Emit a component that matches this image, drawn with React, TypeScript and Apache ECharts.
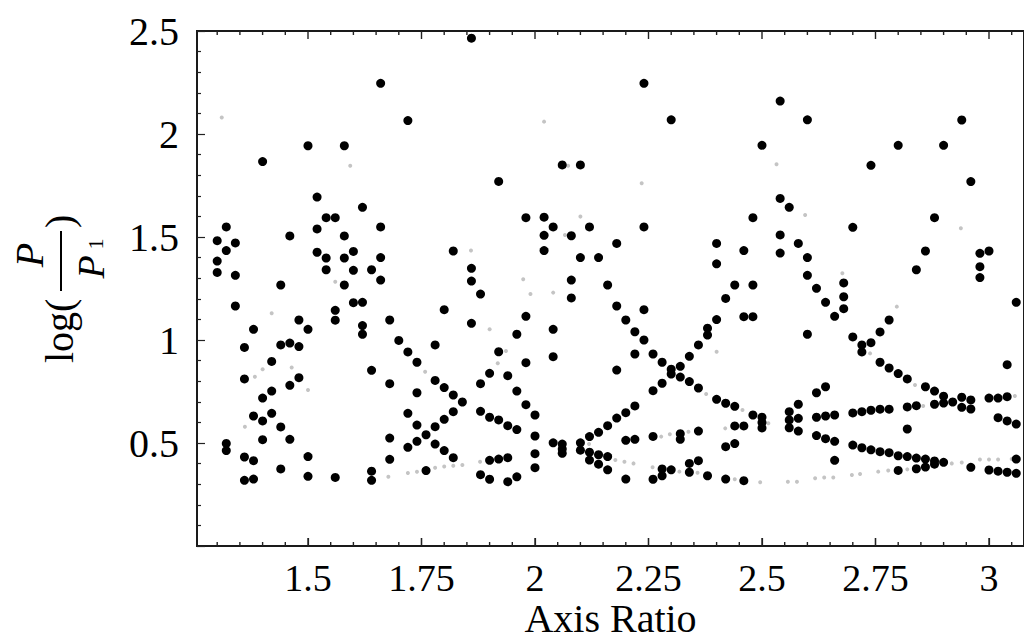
import React, { useEffect, useRef } from "react";
import * as echarts from "echarts";

// ---- data ----
const axisRatios = [
  1.30, 1.32, 1.34, 1.36, 1.38, 1.40, 1.42, 1.44, 1.46, 1.48,
  1.50, 1.52, 1.54, 1.56, 1.58, 1.60, 1.62, 1.64, 1.66, 1.68,
  1.70, 1.72, 1.74, 1.76, 1.78, 1.80, 1.82, 1.84, 1.86, 1.88,
  1.90, 1.92, 1.94, 1.96, 1.98, 2.00, 2.02, 2.04, 2.06, 2.08,
  2.10, 2.12, 2.14, 2.16, 2.18, 2.20, 2.22, 2.24, 2.26, 2.28,
  2.30, 2.32, 2.34, 2.36, 2.38, 2.40, 2.42, 2.44, 2.46, 2.48,
  2.50, 2.54, 2.56, 2.58, 2.60, 2.62, 2.64, 2.66, 2.68, 2.70,
  2.72, 2.74, 2.76, 2.78, 2.80, 2.82, 2.84, 2.86, 2.88, 2.90,
  2.92, 2.94, 2.96, 2.98, 3.00, 3.02, 3.04, 3.06,
];

const logPeriodRatios = [
  [1.482, 1.383, 1.328],
  [1.549, 1.434, 0.498, 0.463],
  [1.471, 1.314, 1.165],
  [0.964, 0.811, 0.432, 0.319],
  [1.052, 0.631, 0.414, 0.325],
  [1.866, 0.718, 0.607, 0.516],
  [0.896, 0.752, 0.644],
  [1.267, 0.976, 0.578, 0.374],
  [1.505, 0.985, 0.78, 0.518],
  [1.097, 0.968, 0.817],
  [1.943, 1.052, 0.434, 0.338],
  [1.694, 1.539, 1.426],
  [1.594, 1.398, 1.341],
  [1.594, 1.144, 1.096, 0.333],
  [1.943, 1.505, 1.398, 1.267],
  [1.43, 1.338, 1.181],
  [1.644, 1.183, 1.07, 1.028],
  [1.341, 0.853, 0.363, 0.319],
  [2.246, 1.549, 1.4, 1.291],
  [1.097, 0.788, 0.524, 0.421],
  [0.998],
  [2.065, 0.942, 0.644, 0.479],
  [0.892, 0.744, 0.587, 0.508],
  [0.54, 0.366],
  [0.976, 0.804, 0.579, 0.495],
  [1.147, 0.769, 0.615, 0.463],
  [1.432, 0.733, 0.652, 0.429],
  [0.699],
  [2.465, 1.348, 1.286, 1.081],
  [1.223, 0.788, 0.654, 0.346],
  [0.838, 0.625, 0.416, 0.324],
  [1.77, 0.943, 0.612, 0.422],
  [0.827, 0.584, 0.429, 0.312],
  [1.028, 0.752, 0.565, 0.336],
  [1.594, 1.115, 0.89, 0.686],
  [0.636, 0.534, 0.448, 0.38],
  [1.596, 1.508, 1.434],
  [1.549, 1.052, 0.919, 0.501],
  [1.85, 0.495, 0.471, 0.45],
  [1.506, 1.291, 1.204],
  [1.85, 1.4, 0.501, 0.465],
  [1.549, 0.531, 0.455, 0.417],
  [1.4, 0.552, 0.443, 0.397],
  [1.267, 0.584, 0.434, 0.37],
  [1.469, 1.165, 0.854, 0.621],
  [1.097, 0.647, 0.513, 0.325],
  [1.04, 0.932, 0.68, 0.518],
  [2.246, 1.549, 1.147, 1.0],
  [0.932, 0.754, 0.532, 0.324],
  [0.892, 0.79, 0.374, 0.341],
  [2.069, 0.858, 0.835, 0.37],
  [0.872, 0.82, 0.545, 0.518],
  [0.921, 0.798, 0.401, 0.358],
  [0.976, 0.767, 0.558, 0.414],
  [1.057, 1.024, 0.341],
  [1.469, 1.37, 1.099, 0.712],
  [1.202, 0.693, 0.482, 0.325],
  [1.267, 0.678, 0.583, 0.497],
  [1.434, 1.113, 0.583, 0.317],
  [1.594, 1.267, 1.113, 0.636],
  [1.945, 0.625, 0.599, 0.573],
  [2.16, 1.687, 1.51, 1.422],
  [1.644, 0.652, 0.612, 0.574],
  [1.469, 0.688, 0.62, 0.558],
  [2.069, 1.4, 1.314, 1.028],
  [1.251, 0.744, 0.625, 0.536],
  [1.183, 0.773, 0.631, 0.521],
  [1.115, 0.636, 0.508, 0.416],
  [1.277, 1.21, 1.152],
  [1.547, 1.015, 0.646, 0.49],
  [0.976, 0.942, 0.652, 0.477],
  [1.848, 0.987, 0.659, 0.467],
  [1.039, 0.892, 0.664, 0.458],
  [1.097, 0.864, 0.664, 0.453],
  [1.945, 0.837, 0.438, 0.367],
  [0.811, 0.675, 0.568, 0.434],
  [1.341, 0.681, 0.427, 0.375],
  [1.432, 0.773, 0.422, 0.383],
  [1.594, 0.752, 0.688, 0.413, 0.397],
  [1.945, 0.727, 0.694, 0.406],
  [0.699],
  [2.068, 0.722, 0.673],
  [1.769, 0.709, 0.665, 0.382],
  [1.421, 1.356, 1.303],
  [1.432, 0.718, 0.369],
  [0.718, 0.623, 0.363],
  [0.88, 0.725, 0.607, 0.358],
  [1.183, 0.592, 0.422, 0.353],
];

// faint grey points
const greyRatios = [
  1.31, 1.593, 1.859, 1.56, 2.02, 2.235, 2.10, 2.073, 2.066, 1.974,
  2.532, 2.595, 2.938, 2.677, 1.42, 1.40, 1.383, 1.464, 1.50, 1.361,
  1.677, 1.72, 1.74, 1.76, 1.78, 1.80, 1.82, 1.84, 1.758, 1.879,
  1.936, 1.918, 2.119, 2.177, 2.197, 2.217, 2.259, 2.278, 2.297, 2.338,
  2.318, 2.358, 2.377, 2.419, 2.457, 2.44, 1.99, 2.04, 1.90, 2.40,
  2.496, 2.557, 2.577, 2.617, 2.637, 2.657, 2.698, 2.716, 2.756, 2.778,
  2.80, 2.82, 2.84, 2.88, 2.90, 2.94, 2.98, 3.00, 3.02, 3.05,
  2.514, 2.738, 2.855, 2.837, 3.057, 2.797, 2.918,
];
const greyLogRatios = [
  2.08, 1.846, 1.434, 1.283, 2.06, 1.761, 1.599, 1.846, 1.51, 1.295,
  1.853, 1.607, 1.542, 1.324, 1.13, 0.858, 0.822, 0.867, 0.757, 0.579,
  0.336, 0.354, 0.36, 0.372, 0.38, 0.386, 0.39, 0.393, 0.846, 0.409,
  0.947, 0.887, 0.495, 0.417, 0.409, 0.401, 0.382, 0.531, 0.542, 0.555,
  0.361, 0.356, 0.738, 0.571, 0.66, 0.324, 1.223, 1.23, 1.052, 0.943,
  0.309, 0.312, 0.312, 0.329, 0.333, 0.333, 0.345, 0.35, 0.361, 0.366,
  0.37, 0.372, 0.375, 0.4, 0.402, 0.405, 0.42, 0.42, 0.42, 0.422,
  0.596, 0.935, 0.68, 0.782, 0.728, 1.162, 0.401,
];

const X_MIN = 1.2555;
const X_MAX = 3.0771;
const X_MAJOR = [1.5, 1.75, 2, 2.25, 2.5, 2.75, 3];
const X_MINOR = [
  1.3, 1.35, 1.4, 1.45, 1.55, 1.6, 1.65, 1.7, 1.8, 1.85, 1.9, 1.95,
  2.05, 2.1, 2.15, 2.2, 2.3, 2.35, 2.4, 2.45, 2.55, 2.6, 2.65, 2.7,
  2.8, 2.85, 2.9, 2.95, 3.05,
];
const Y_MIN = 0;
const Y_MAX = 2.5;
const Y_STEP = 0.5;

const FONT = "'Liberation Serif', 'Times New Roman', serif";

export default function App() {
  const ref = useRef<HTMLDivElement>(null);

  useEffect(() => {
    if (!ref.current) return;
    const chart = echarts.init(ref.current, undefined, { renderer: "svg" });

    const blackData: number[][] = [];
    axisRatios.forEach((x, i) => {
      logPeriodRatios[i].forEach((y) => blackData.push([x, y]));
    });
    const greyData = greyRatios.map((x, i) => [x, greyLogRatios[i]]);

    // frame ticks drawn on the x scale (top and bottom edges, pointing inwards)
    const tickSeries = (values: number[], yVal: number, len: number, dir: number) => ({
      type: "scatter",
      xAxisIndex: 0,
      yAxisIndex: 0,
      data: values.map((v) => [v, yVal]),
      symbol: "rect",
      symbolSize: [1.4, len],
      symbolOffset: [0, (dir * len) / 2],
      itemStyle: { color: "#222", opacity: 1 },
      silent: true,
      clip: false,
      z: 3,
    });

    chart.setOption({
      animation: false,
      backgroundColor: "#fff",
      grid: {
        left: 197,
        right: 0,
        top: 31,
        bottom: 97,
        containLabel: false,
        outerBoundsMode: "none",
        show: true,
        backgroundColor: "transparent",
        borderColor: "#1a1a1a",
        borderWidth: 2,
      },
      xAxis: {
        type: "value",
        position: "bottom",
        min: X_MIN,
        max: X_MAX,
        splitLine: { show: false },
        axisLine: { show: true, lineStyle: { color: "#1a1a1a", width: 2 } },
        axisTick: { show: true, inside: true, length: 8, customValues: X_MAJOR, lineStyle: { color: "#222", width: 1.2 } },
        axisLabel: {
          show: true,
          customValues: X_MAJOR,
          fontFamily: FONT,
          fontSize: 38,
          lineHeight: 30,
          color: "#000",
          margin: 17,
        },
        name: "Axis Ratio",
        nameLocation: "middle",
        nameGap: 57,
        nameMoveOverlap: false,
        nameTextStyle: { fontFamily: FONT, fontSize: 40, lineHeight: 30, color: "#000" },
      },
      yAxis: {
        type: "value",
        position: "left",
        min: Y_MIN,
        max: Y_MAX,
        interval: Y_STEP,
        axisLine: { show: true, lineStyle: { color: "#1a1a1a", width: 2 } },
        axisTick: { show: true, inside: true, length: 8, lineStyle: { color: "#222", width: 1.2 } },
        minorTick: { show: true, splitNumber: 5, length: 4, lineStyle: { color: "#222", width: 1.2 } },
        splitLine: { show: false },
        axisLabel: {
          show: true,
          showMinLabel: false,
          fontFamily: FONT,
          fontSize: 40,
          color: "#000",
          margin: 18,
        },
      },
      graphic: [
        {
          type: "group",
          x: 61,
          y: 363,
          rotation: Math.PI / 2,
          children: [
            {
              type: "text",
              x: 0,
              y: -2,
              style: { text: "log(", fontFamily: FONT, fontSize: 40, fill: "#000", align: "left", verticalAlign: "middle", textAlign: "left", textVerticalAlign: "middle" },
            },
            {
              type: "line",
              shape: { x1: 72, y1: 0, x2: 132, y2: 0 },
              style: { stroke: "#000", lineWidth: 2 },
            },
            {
              type: "text",
              x: 108,
              y: -32,
              style: { text: "P", fontFamily: FONT, fontStyle: "italic", fontSize: 40, fill: "#000", align: "center", verticalAlign: "middle", textAlign: "center", textVerticalAlign: "middle" },
            },
            {
              type: "text",
              x: 96,
              y: 30,
              style: { text: "P", fontFamily: FONT, fontStyle: "italic", fontSize: 38, fill: "#000", align: "center", verticalAlign: "middle", textAlign: "center", textVerticalAlign: "middle" },
            },
            {
              type: "text",
              x: 119,
              y: 34,
              style: { text: "1", fontFamily: FONT, fontSize: 22, fill: "#000", align: "center", verticalAlign: "middle", textAlign: "center", textVerticalAlign: "middle" },
            },
            {
              type: "text",
              x: 135,
              y: -2,
              style: { text: ")", fontFamily: FONT, fontSize: 40, fill: "#000", align: "left", verticalAlign: "middle", textAlign: "left", textVerticalAlign: "middle" },
            },
          ],
        },
      ],
      series: [
        {
          type: "scatter",
          data: greyData,
          symbol: "circle",
          symbolSize: 4,
          itemStyle: { color: "#c4c4c4", opacity: 1 },
          z: 1,
          silent: true,
        },
        {
          type: "scatter",
          data: blackData,
          symbol: "circle",
          symbolSize: 9,
          itemStyle: { color: "#000", opacity: 1 },
          z: 2,
          silent: true,
        },
        tickSeries(X_MAJOR, Y_MAX, 8, 1),
        tickSeries(X_MINOR, Y_MAX, 4, 1),
        tickSeries(X_MAJOR, Y_MIN, 8, -1),
        tickSeries(X_MINOR, Y_MIN, 4, -1),
      ],
    });

    return () => chart.dispose();
  }, []);

  return (
    <div
      ref={ref}
      style={{ position: "fixed", left: 0, top: 0, width: 1024, height: 643, background: "#fff" }}
    />
  );
}
